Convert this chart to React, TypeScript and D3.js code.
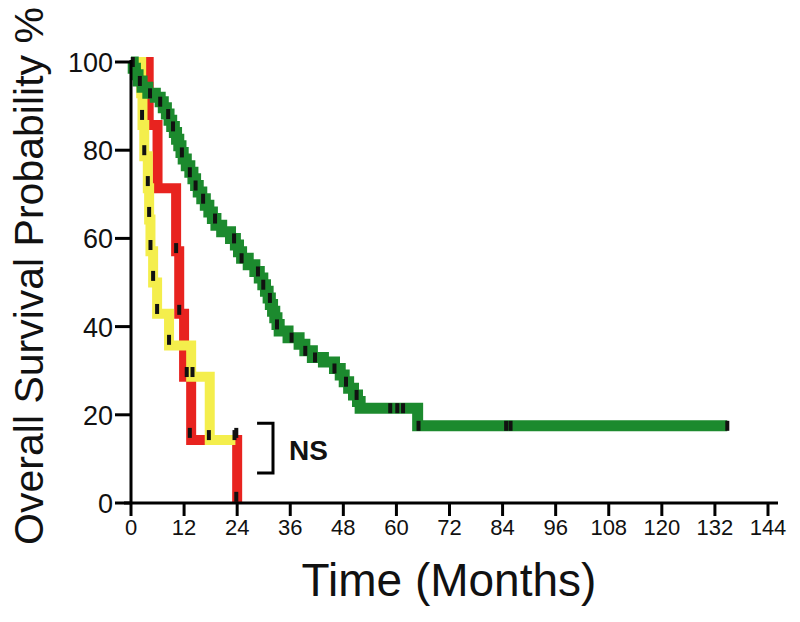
import React from "react";
import * as d3 from "d3";

// ---------- data ----------
const TIME_TICKS = [0, 12, 24, 36, 48, 60, 72, 84, 96, 108, 120, 132, 144];
const SURV_TICKS = [0, 20, 40, 60, 80, 100];

// [time (months), survival % after the step]
const GREEN_STEPS: [number, number][] = [
  [0, 100], [0.5, 98.6], [1.0, 97.1], [1.6, 95.7], [2.5, 94.3], [3.8, 92.9], [5.5, 92], [6.6, 91],
  [7.3, 89.6], [8.0, 88.2], [8.6, 86.8], [9.2, 85.4], [9.8, 84], [10.3, 82.5], [10.8, 81], [11.3, 79.5],
  [11.8, 78], [12.5, 76.5], [13.3, 75], [14.0, 73.5], [14.6, 72], [15.2, 70.5], [16.0, 69], [16.8, 67.5],
  [17.6, 66], [18.4, 64.5], [19.2, 63], [20.5, 61.5], [22.5, 60], [23.6, 58.5], [24.3, 57], [25.0, 55.5],
  [26.5, 54], [28.0, 52.5], [29.0, 51], [29.8, 49.5], [30.4, 48], [31.0, 46.5], [31.5, 45], [32.0, 43.5],
  [32.5, 42], [33.0, 40.5], [33.5, 39], [35.5, 37.5], [38.0, 36], [39.3, 34.5], [41.0, 33], [43.5, 32],
  [46.0, 30.5], [47.3, 29], [48.2, 27.5], [49.2, 26], [50.3, 24.5], [51.2, 23], [51.8, 21.5], [64.8, 17.5],
];
const GREEN_END = 134.8;
const GREEN_CENSOR: [number, number][] = [
  [0.4, 100], [2, 95.7], [4.3, 92.9], [6.6, 91], [8.4, 88.2], [9.5, 85.4], [11.5, 79.5], [13.3, 75],
  [14.6, 72], [16.3, 69], [19, 64.5], [23.3, 60], [25, 55.5], [28.7, 52.5], [29.9, 49.5], [31.4, 46.5],
  [33.0, 40.5], [36.3, 37.5], [39.4, 34.5], [41.6, 33], [46, 30.5], [48.6, 27.5], [51, 24.5],
  [58.6, 21.5], [60.2, 21.5], [61.5, 21.5], [65, 17.5], [84.8, 17.5], [85.8, 17.5], [134.8, 17.5],
];

const YELLOW_STEPS: [number, number][] = [
  [0, 100], [2.3, 92.9], [2.6, 85.7], [3.0, 78.6], [3.8, 71.4], [4.1, 64.3], [4.4, 57.1], [5.0, 50],
  [5.9, 42.9], [8.6, 35.7], [13.6, 28.6], [17.8, 14.3],
];
const YELLOW_END = 23.6;
const YELLOW_CENSOR: [number, number][] = [
  [2.5, 88], [3.0, 80], [3.8, 73], [4.1, 66], [4.4, 58.5], [5.0, 51.5], [5.9, 44], [8.6, 37],
  [13.9, 29.7], [17.6, 15.4], [23.4, 15.4],
];

const RED_STEPS: [number, number][] = [
  [0, 100], [4.0, 85.7], [6.0, 71.4], [10.2, 57.1], [10.9, 42.9], [12.0, 28.6], [13.6, 14.3], [24, 0],
];
const RED_END = 24;
const RED_CENSOR: [number, number][] = [
  [10.2, 57.8], [10.9, 43.8], [12.6, 29.7], [13.3, 15.9], [23.8, 15.9], [23.8, 1.4],
];

const NS_BRACKET = { t0: 28.5, t1: 32.1, sTop: 18.1, sBot: 6.8 };

// ---------- chart ----------
const W = 800;
const H = 622;
const FONT = "'Liberation Sans', Arial, Helvetica, sans-serif";

export default function App() {
  const x = d3.scaleLinear().domain([0, 144]).range([131, 768]);
  const y = d3.scaleLinear().domain([0, 100]).range([503, 62]);

  const line = d3
    .line<[number, number]>()
    .x((d) => x(d[0]))
    .y((d) => y(d[1]))
    .curve(d3.curveStepAfter);

  const withEnd = (steps: [number, number][], end: number): [number, number][] => [
    ...steps,
    [end, steps[steps.length - 1][1]],
  ];

  const series = [
    { steps: RED_STEPS, end: RED_END, censor: RED_CENSOR, color: "#e8231f", w: 10 },
    { steps: YELLOW_STEPS, end: YELLOW_END, censor: YELLOW_CENSOR, color: "#f4ee4c", w: 10 },
    { steps: GREEN_STEPS, end: GREEN_END, censor: GREEN_CENSOR, color: "#1c8a2e", w: 11 },
  ];

  const b = NS_BRACKET;

  return (
    <svg
      width={W}
      height={H}
      style={{ position: "absolute", left: 0, top: 0, background: "#fff" }}
      fontFamily={FONT}
    >
      <rect x={0} y={0} width={W} height={H} fill="#fff" />

      {/* curves */}
      {series.map((s, i) => (
        <path
          key={i}
          d={line(withEnd(s.steps, s.end)) || ""}
          fill="none"
          stroke={s.color}
          strokeWidth={s.w}
          strokeLinejoin="miter"
          strokeLinecap="butt"
        />
      ))}
      {series.map((s, i) => (
        <g key={"c" + i}>
          {s.censor.map((c, j) => (
            <rect key={j} x={x(c[0]) - 2} y={y(c[1]) - 5} width={4} height={10} fill="#111" />
          ))}
        </g>
      ))}

      {/* axes */}
      <line x1={x(0)} x2={x(0)} y1={y(100) - 2} y2={y(0)} stroke="#000" strokeWidth={3} />
      <line x1={x(0) - 7} x2={778} y1={y(0)} y2={y(0)} stroke="#000" strokeWidth={3} />
      {SURV_TICKS.map((t) => (
        <g key={"y" + t}>
          <line x1={x(0) - 16} x2={x(0)} y1={y(t)} y2={y(t)} stroke="#000" strokeWidth={3} />
          <text x={x(0) - 18} y={y(t) + 10} textAnchor="end" fontSize={27} fill="#111">
            {t}
          </text>
        </g>
      ))}
      {TIME_TICKS.map((t) => (
        <g key={"x" + t}>
          <line x1={x(t)} x2={x(t)} y1={y(0)} y2={y(0) + 13} stroke="#000" strokeWidth={3} />
          <text x={x(t)} y={y(0) + 32} textAnchor="middle" fontSize={22} fill="#111">
            {t}
          </text>
        </g>
      ))}

      {/* axis titles */}
      <text x={449} y={596} textAnchor="middle" fontSize={46} fill="#111">
        Time (Months)
      </text>
      <text
        transform={`translate(43, 276) rotate(-90)`}
        textAnchor="middle"
        fontSize={41}
        fill="#111"
      >
        Overall Survival Probability %
      </text>

      {/* NS bracket */}
      <path
        d={`M${x(b.t0)},${y(b.sTop)}H${x(b.t1)}V${y(b.sBot)}H${x(b.t0)}`}
        fill="none"
        stroke="#000"
        strokeWidth={3}
      />
      <text x={289} y={460} fontSize={28} fontWeight="bold" fill="#111">
        NS
      </text>
    </svg>
  );
}
